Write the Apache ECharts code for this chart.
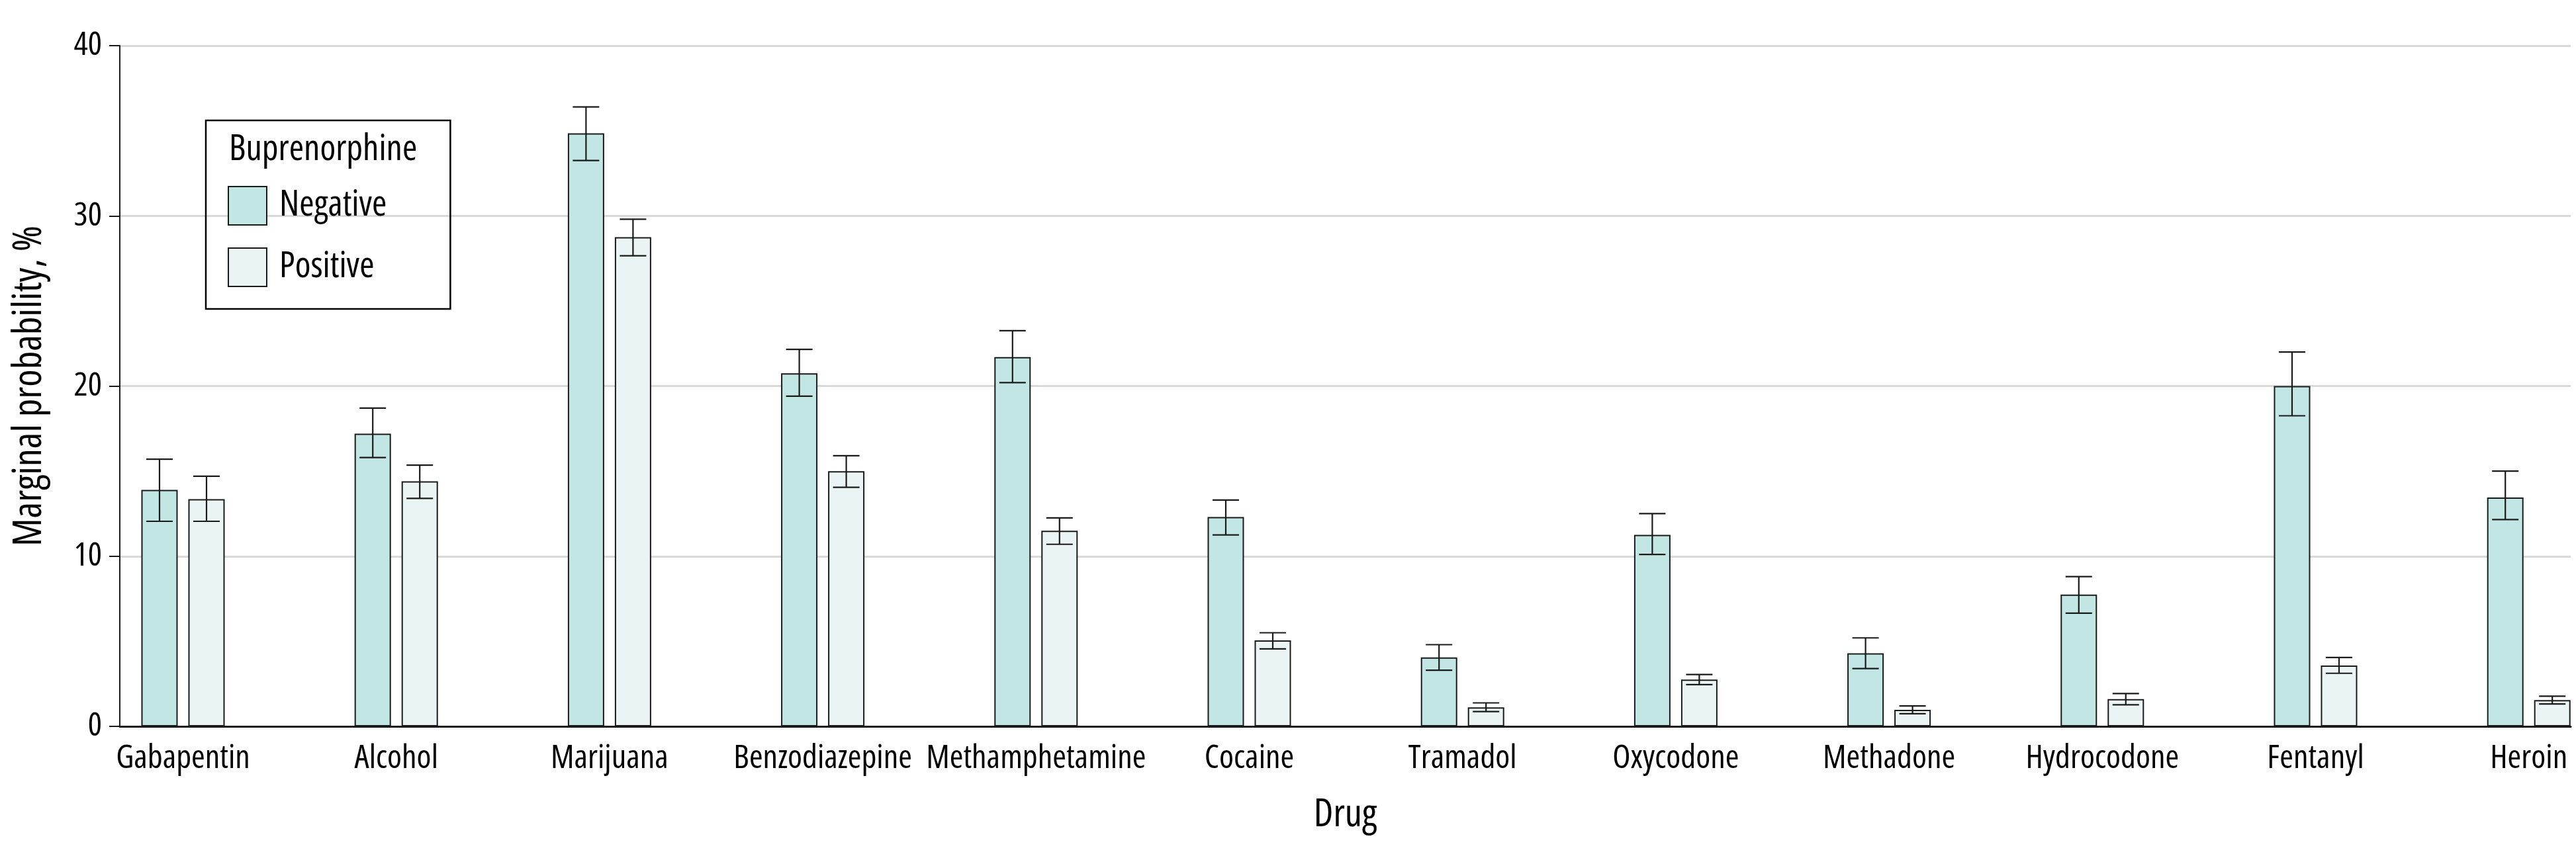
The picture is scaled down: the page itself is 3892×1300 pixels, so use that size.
<!DOCTYPE html>
<html>
<head>
<meta charset="utf-8">
<title>Marginal probability by drug and buprenorphine result</title>
<script src="https://cdn.jsdelivr.net/npm/echarts@6/dist/echarts.min.js"></script>
<style>
  html, body { margin: 0; padding: 0; background: #fff; }
  #chart { width: 3892px; height: 1300px; }
</style>
</head>
<body>
<div id="chart"></div>
<script>
// values (marginal probability, %)
const drugs = ['Gabapentin', 'Alcohol', 'Marijuana', 'Benzodiazepine', 'Methamphetamine', 'Cocaine',
               'Tramadol', 'Oxycodone', 'Methadone', 'Hydrocodone', 'Fentanyl', 'Heroin'];
const negative = [13.9, 17.2, 34.85, 20.75, 21.7, 12.3, 4.05, 11.25, 4.3, 7.75, 20.0, 13.45];
const negativeLow = [12.05, 15.8, 33.25, 19.4, 20.2, 11.25, 3.3, 10.1, 3.4, 6.65, 18.25, 12.15];
const negativeHigh = [15.7, 18.7, 36.4, 22.15, 23.25, 13.3, 4.8, 12.5, 5.2, 8.8, 22.0, 15.0];
const positive = [13.35, 14.4, 28.75, 15.0, 11.5, 5.05, 1.12, 2.75, 0.97, 1.6, 3.58, 1.55];
const positiveLow = [12.05, 13.4, 27.65, 14.05, 10.7, 4.55, 0.87, 2.45, 0.74, 1.27, 3.12, 1.32];
const positiveHigh = [14.7, 15.35, 29.8, 15.9, 12.25, 5.5, 1.38, 3.05, 1.2, 1.93, 4.05, 1.77];
const yTicks = [0, 10, 20, 30, 40];

// condensed face of Open Sans (font-stretch goes through the weight slot of the canvas font string)
const FONT = "'Open Sans', 'DejaVu Sans Condensed', sans-serif";
const STRETCH = 'condensed';
const BAR_WIDTH = 55;
const BAR_GAP = 16;
const CAP_WIDTH = 40;
const NEG_COLOR = '#c1e6e4';
const POS_COLOR = '#eaf4f4';
const EDGE = '#1a1a1a';

function txt(size) {
    return { fontSize: size, fontFamily: FONT, fontWeight: STRETCH, color: '#000' };
}

function errorBars(offsetSign) {
    return function (params, api) {
        const lo = api.coord([api.value(0), api.value(1)]);
        const hi = api.coord([api.value(0), api.value(2)]);
        const cx = lo[0] + offsetSign * (BAR_WIDTH + BAR_GAP) / 2;
        const half = CAP_WIDTH / 2;
        const style = { stroke: EDGE, lineWidth: 2.2 };
        return {
            type: 'group',
            children: [
                { type: 'line', shape: { x1: cx, y1: hi[1], x2: cx, y2: lo[1] }, style },
                { type: 'line', shape: { x1: cx - half, y1: hi[1], x2: cx + half, y2: hi[1] }, style },
                { type: 'line', shape: { x1: cx - half, y1: lo[1], x2: cx + half, y2: lo[1] }, style }
            ]
        };
    };
}

const option = {
    animation: false,
    textStyle: txt(50),
    grid: [
        // frame: y axis, grid lines, baseline
        { left: 181, right: 8, top: 69, bottom: 202, outerBoundsMode: 'none' },
        // bar layout: bands are wider than the frame so groups sit where the original has them
        { left: 115.4, width: 3866.4, top: 69, bottom: 202, outerBoundsMode: 'none' }
    ],
    xAxis: [
        {
            gridIndex: 0,
            type: 'value',
            min: 0,
            max: 1,
            axisLine: { show: true, lineStyle: { color: EDGE, width: 3 } },
            axisTick: { show: false },
            axisLabel: { show: false },
            splitLine: { show: false },
            name: 'Drug',
            nameLocation: 'middle',
            nameGap: 105,
            nameTextStyle: txt(58)
        },
        {
            gridIndex: 1,
            type: 'category',
            data: drugs,
            axisLine: { show: false },
            axisTick: { show: false },
            axisLabel: Object.assign({ margin: 24, interval: 0 }, txt(50))
        }
    ],
    yAxis: [
        {
            gridIndex: 0,
            type: 'value',
            min: yTicks[0],
            max: yTicks[yTicks.length - 1],
            interval: 10,
            axisLine: { show: true, lineStyle: { color: EDGE, width: 2 } },
            axisTick: { show: true, length: 16, lineStyle: { color: EDGE, width: 2 } },
            axisLabel: Object.assign({ margin: 27 }, txt(50)),
            splitLine: { show: true, lineStyle: { color: '#d9d9d9', width: 3 } },
            name: 'Marginal probability, %',
            nameLocation: 'middle',
            nameRotate: 90,
            nameGap: 106,
            nameTextStyle: txt(60)
        },
        { gridIndex: 1, type: 'value', min: 0, max: 40, show: false }
    ],
    legend: {
        data: ['Negative', 'Positive'],
        orient: 'vertical',
        left: 311,
        top: 182,
        icon: 'rect',
        padding: [99, 96, 33, 33],
        borderColor: '#000',
        borderWidth: 2.5,
        itemWidth: 58,
        itemHeight: 58,
        itemGap: 33,
        selectedMode: false,
        textStyle: Object.assign({ padding: [0, 0, 0, 14] }, txt(54))
    },
    graphic: [
        {
            type: 'text',
            style: {
                text: 'Buprenorphine', x: 346, y: 227, verticalAlign: 'middle',
                fontSize: 54, fontFamily: FONT, fontWeight: STRETCH, fill: '#000'
            }
        }
    ],
    series: [
        {
            name: 'Negative',
            type: 'bar',
            xAxisIndex: 1,
            yAxisIndex: 1,
            barWidth: BAR_WIDTH,
            barGap: (BAR_GAP / BAR_WIDTH * 100).toFixed(1) + '%',
            itemStyle: { color: NEG_COLOR, borderColor: EDGE, borderWidth: 2 },
            data: negative
        },
        {
            name: 'Positive',
            type: 'bar',
            xAxisIndex: 1,
            yAxisIndex: 1,
            barWidth: BAR_WIDTH,
            barGap: (BAR_GAP / BAR_WIDTH * 100).toFixed(1) + '%',
            itemStyle: { color: POS_COLOR, borderColor: EDGE, borderWidth: 2 },
            data: positive
        },
        {
            name: 'Negative 95% CI',
            type: 'custom',
            xAxisIndex: 1,
            yAxisIndex: 1,
            z: 3,
            renderItem: errorBars(-1),
            encode: { x: 0, y: [1, 2] },
            data: drugs.map((d, i) => [i, negativeLow[i], negativeHigh[i]])
        },
        {
            name: 'Positive 95% CI',
            type: 'custom',
            xAxisIndex: 1,
            yAxisIndex: 1,
            z: 3,
            renderItem: errorBars(1),
            encode: { x: 0, y: [1, 2] },
            data: drugs.map((d, i) => [i, positiveLow[i], positiveHigh[i]])
        }
    ]
};

const myChart = echarts.init(document.getElementById('chart'));
myChart.setOption(option);
window.addEventListener('resize', () => myChart.resize());
</script>
</body>
</html>
